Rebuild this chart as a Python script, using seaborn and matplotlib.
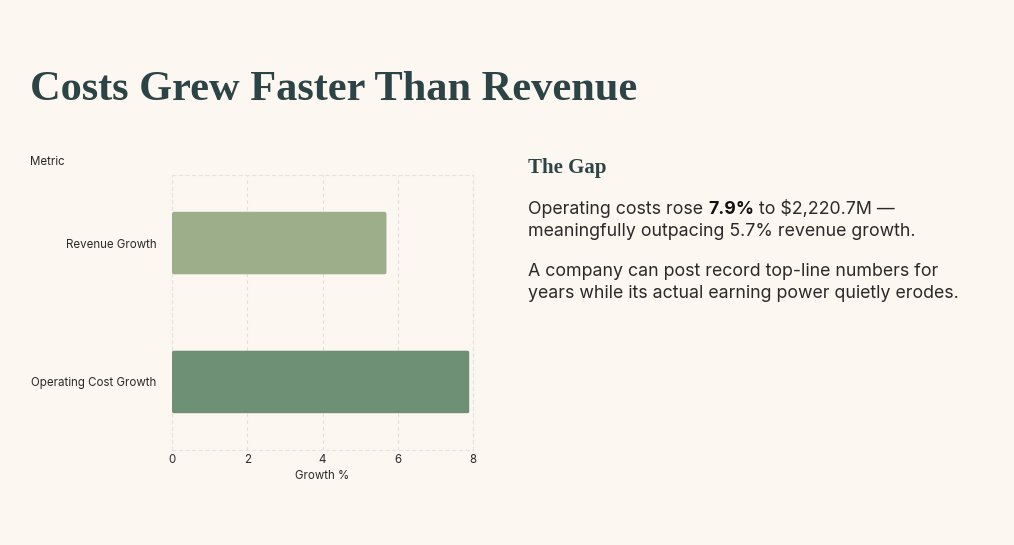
import matplotlib
matplotlib.use("Agg")
import matplotlib.pyplot as plt
from matplotlib.patches import FancyBboxPatch
import seaborn as sns
import pandas as pd

metrics = ["Revenue Growth", "Operating Cost Growth"]
growth = [5.7, 7.9]
bar_colors = ["#9DAF8A", "#6E9075"]
x_ticks = [0, 2, 4, 6, 8]

BG = "#FDF7F1"
INK = "#2C4446"
TXT = "#2A2A2A"
SANS = ["Inter", "DejaVu Sans"]
SERIF = ["Liberation Serif", "DejaVu Serif"]

sns.set_theme(style="white")
plt.rcParams["font.family"] = SANS

df = pd.DataFrame({"Metric": metrics, "Growth": growth})

fig = plt.figure(figsize=(10.14, 5.45), dpi=100, facecolor=BG)
ax = fig.add_axes([172 / 1014, 1 - 450 / 545, 301 / 1014, 275 / 545])
ax.set_facecolor(BG)

sns.barplot(data=df, x="Growth", y="Metric", hue="Metric", palette=bar_colors,
            width=0.45, legend=False, ax=ax, saturation=1)

# rounded bar corners
for p in list(ax.patches):
    x0, y0 = p.get_x(), p.get_y()
    w, h = p.get_width(), p.get_height()
    fc = p.get_facecolor()
    p.remove()
    ax.add_patch(FancyBboxPatch((x0, y0), w, h, boxstyle="round,pad=0,rounding_size=0.06",
                                mutation_aspect=h / w * 3.2 if w else 1,
                                facecolor=fc, edgecolor="none", zorder=3))

ax.set_xlim(0, 8)
ax.set_ylim(1.49, -0.49)
ax.set_xticks(x_ticks)
ax.grid(axis="x", color="#E3DED7", linestyle=(0, (3, 3)), linewidth=0.8, zorder=0)
ax.set_axisbelow(True)
for s in ax.spines.values():
    s.set_visible(True)
    s.set_color("#E8E3DC")
    s.set_linestyle((0, (3, 3)))
    s.set_linewidth(0.8)
    s.set_zorder(1)
ax.tick_params(axis="both", length=0, labelsize=8.3, labelcolor=TXT)
ax.tick_params(axis="x", pad=3)
ax.tick_params(axis="y", pad=11)
ax.set_xlabel("Growth %", fontsize=8.3, color=TXT, labelpad=3)
ax.set_ylabel("")
fig.text(30 / 1014, 1 - 162 / 545, "Metric", fontsize=8.3, color=TXT, va="center", ha="left")

# title
fig.text(30 / 1014, 1 - 90 / 545, "Costs Grew Faster Than Revenue", fontsize=30.5,
         fontweight="bold", color=INK, va="center", ha="left", family=SERIF)

# side panel
fig.text(528 / 1014, 1 - 168 / 545, "The Gap", fontsize=15, fontweight="bold", color=INK,
         va="center", ha="left", family=SERIF)

fs = 12.8
renderer = fig.canvas.get_renderer()
y1 = 1 - 209 / 545
t1 = fig.text(528 / 1014, y1, "Operating costs rose ", fontsize=fs, color=TXT, va="center", ha="left")
bb = t1.get_window_extent(renderer)
t2 = fig.text(bb.x1 / fig.bbox.width, y1, "7.9%", fontsize=fs, fontweight="bold", color="#111111",
              va="center", ha="left")
bb = t2.get_window_extent(renderer)
fig.text(bb.x1 / fig.bbox.width, y1, " to $2,220.7M \u2014", fontsize=fs, color=TXT, va="center", ha="left")
fig.text(528 / 1014, 1 - 232 / 545, "meaningfully outpacing 5.7% revenue growth.", fontsize=fs,
         color=TXT, va="center", ha="left")
fig.text(528 / 1014, 1 - 271 / 545, "A company can post record top-line numbers for", fontsize=fs,
         color=TXT, va="center", ha="left")
fig.text(528 / 1014, 1 - 294 / 545, "years while its actual earning power quietly erodes.", fontsize=fs,
         color=TXT, va="center", ha="left")

fig.savefig("out.png", dpi=100, facecolor=BG)
